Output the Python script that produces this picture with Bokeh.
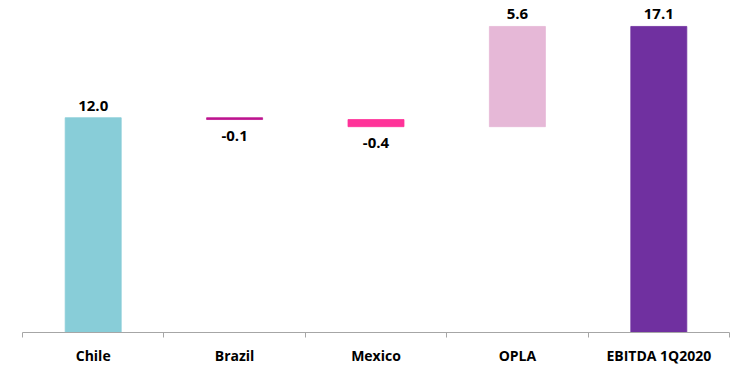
from bokeh.plotting import figure
from bokeh.models import FixedTicker, ColumnDataSource
from bokeh.core.properties import value
from bokeh.embed import file_html
from bokeh.resources import INLINE

categories = ["Chile", "Brazil", "Mexico", "OPLA", "EBITDA 1Q2020"]
changes = [12.0, -0.1, -0.4, 5.6, 17.1]
is_total = [False, False, False, False, True]
colors = ["#88CDD8", "#BE1590", "#FF3399", "#E6B8D7", "#7030A0"]

# waterfall geometry from the data
bottoms, tops = [], []
running = 0.0
for c, tot in zip(changes, is_total):
    if tot:
        b, t = 0.0, c
        running = c
    else:
        b, t = running, running + c
        running = t
    bottoms.append(min(b, t))
    tops.append(max(b, t))

xs = list(range(len(categories)))
labels = [f"{v:.1f}" for v in changes]

src = ColumnDataSource(dict(x=xs, bottom=bottoms, top=tops, color=colors))

p = figure(frame_width=707, frame_height=332, x_range=(-0.5, 4.5), y_range=(0, 18.55),
           output_backend="svg", toolbar_location=None,
           min_border_left=22, min_border_right=11, min_border_top=0, min_border_bottom=0)
p.outline_line_color = None
p.grid.visible = False
p.yaxis.visible = False

p.vbar(x="x", width=0.396, bottom="bottom", top="top", fill_color="color",
       line_color="color", line_width=0.8, source=src)

pos_x = [x for x, v in zip(xs, changes) if v >= 0]
pos_y = [t for t, v in zip(tops, changes) if v >= 0]
pos_t = [l for l, v in zip(labels, changes) if v >= 0]
neg_x = [x for x, v in zip(xs, changes) if v < 0]
neg_y = [b for b, v in zip(bottoms, changes) if v < 0]
neg_t = [l for l, v in zip(labels, changes) if v < 0]

p.text(x=pos_x, y=pos_y, text=pos_t, text_align="center", text_baseline="alphabetic",
       y_offset=-12, text_font=value("Open Sans"), text_font_style="bold",
       text_font_size="15px", text_color="#000000")
p.text(x=neg_x, y=neg_y, text=neg_t, text_align="center", text_baseline="alphabetic",
       y_offset=16, text_font=value("Open Sans"), text_font_style="bold",
       text_font_size="15px", text_color="#000000")

ax = p.xaxis[0]
ax.ticker = FixedTicker(ticks=xs, minor_ticks=[i - 0.5 for i in range(len(categories) + 1)])
ax.major_label_overrides = {i: c for i, c in enumerate(categories)}
ax.major_tick_out = 0
ax.major_tick_in = 0
ax.minor_tick_out = 5
ax.minor_tick_in = 0
ax.minor_tick_line_color = "#A6A6A6"
ax.axis_line_color = "#A6A6A6"
ax.axis_line_width = 1
ax.major_label_standoff = 8
ax.major_label_text_font = "Open Sans"
ax.major_label_text_font_style = "bold"
ax.major_label_text_font_size = "14px"
ax.major_label_text_color = "#000000"
ax.major_label_text_baseline = "middle"

open("out.html", "w").write(file_html(p, INLINE))
